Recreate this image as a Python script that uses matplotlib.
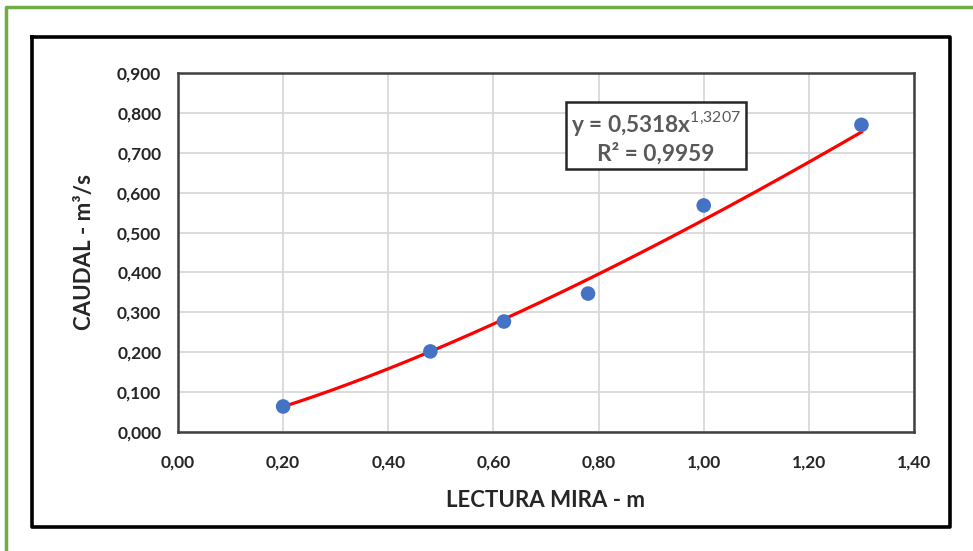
import matplotlib
matplotlib.use('Agg')
import numpy as np
import matplotlib.pyplot as plt
from matplotlib.lines import Line2D

plt.rcParams['font.family'] = ['Lato', 'DejaVu Sans']
plt.rcParams['mathtext.fontset'] = 'custom'
plt.rcParams['mathtext.rm'] = 'Lato'
plt.rcParams['mathtext.bf'] = 'Lato:bold'

# data
lectura = [0.20, 0.48, 0.62, 0.78, 1.00, 1.30]
caudal = [0.064, 0.202, 0.277, 0.347, 0.568, 0.770]
coef_a, coef_b = 0.5318, 1.3207
x_ticks = [0.0, 0.2, 0.4, 0.6, 0.8, 1.0, 1.2, 1.4]
y_ticks = [0.0, 0.1, 0.2, 0.3, 0.4, 0.5, 0.6, 0.7, 0.8, 0.9]

fig = plt.figure(figsize=(9.73, 5.51), dpi=100)
W, H = 973, 551

# green frame only on top and left, black frame around the chart
fig.lines.append(Line2D([6/W, 6/W, 1.0], [0.0, 1-7/H, 1-7/H], transform=fig.transFigure,
                        color='#70AD47', lw=2.5))
fig.lines.append(Line2D([32/W, 950/W, 950/W, 32/W, 32/W],
                        [1-37/H, 1-37/H, 1-527/H, 1-527/H, 1-37/H],
                        transform=fig.transFigure, color='black', lw=2.6))

ax = fig.add_axes([178/W, 1-432/H, 736/W, 359/H])

xf = np.linspace(min(lectura), max(lectura), 200)
ax.plot(xf, coef_a*xf**coef_b, color='red', lw=2.3, zorder=3)
ax.scatter(lectura, caudal, s=110, color='#4472C4', zorder=4, edgecolors='none')

ax.set_xlim(0, 1.4); ax.set_ylim(0, 0.9)
ax.set_xticks(x_ticks); ax.set_yticks(y_ticks)
ax.set_xticklabels([f'{t:.2f}'.replace('.', ',') for t in x_ticks])
ax.set_yticklabels([f'{t:.3f}'.replace('.', ',') for t in y_ticks])
ax.grid(True, color='#d9d9d9', lw=1.3)
ax.set_axisbelow(True)
for s in ax.spines.values():
    s.set_color('#404040'); s.set_linewidth(1.8)
ax.tick_params(length=0, labelsize=12.5, colors='#262626')
for lab in ax.get_xticklabels() + ax.get_yticklabels():
    lab.set_fontweight('bold')
ax.tick_params(axis='x', pad=16)
ax.tick_params(axis='y', pad=12)

ax.set_xlabel('LECTURA MIRA - m', fontsize=16, fontweight='bold', color='#262626', labelpad=14)
ax.set_ylabel('CAUDAL - m³/s', fontsize=16, fontweight='bold', color='#262626', labelpad=16)

ax.text(0.909, 0.74, 'y = 0,5318x$^{1{,}3207}$\nR² = 0,9959', ha='center', va='center',
        fontsize=16.3, fontweight='bold', color='#595959', multialignment='center',
        bbox=dict(boxstyle='square,pad=0.22', fc='white', ec='#262626', lw=1.8), zorder=5)

fig.savefig('out.png', dpi=100)
